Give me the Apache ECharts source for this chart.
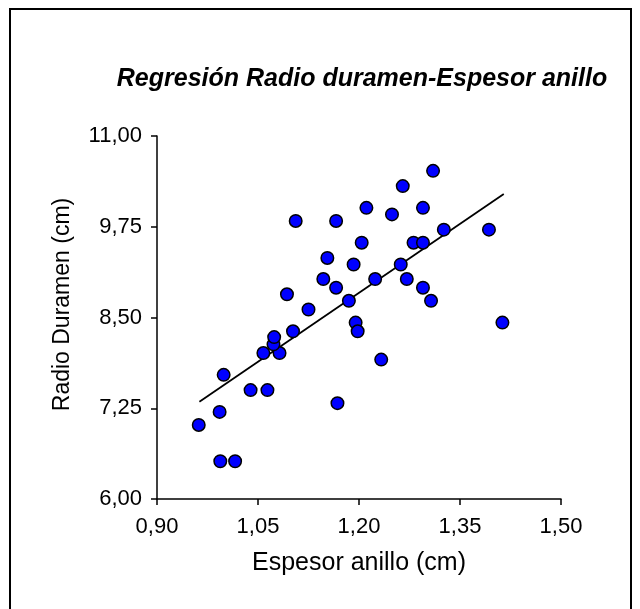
<!DOCTYPE html>
<html>
<head>
<meta charset="utf-8">
<script src="https://cdn.jsdelivr.net/npm/echarts@6/dist/echarts.min.js"></script>
<style>
html,body{margin:0;padding:0;background:#fff;}
#chart{width:640px;height:609px;}
</style>
</head>
<body>
<div id="chart"></div>
<script>
// Espesor anillo (cm)
var espesor = [0.962,0.993,0.994,1.016,0.999,1.039,1.064,1.058,1.082,1.073,1.074,1.102,1.093,1.106,1.125,1.147,1.153,1.166,1.166,1.168,1.185,1.192,1.195,1.198,1.204,1.211,1.224,1.233,1.249,1.265,1.262,1.271,1.281,1.295,1.295,1.295,1.307,1.310,1.326,1.393,1.413];
// Radio Duramen (cm)
var radio = [7.02,7.20,6.52,6.52,7.71,7.50,7.50,8.01,8.01,8.13,8.23,8.31,8.82,9.83,8.61,9.03,9.32,8.91,9.83,7.32,8.73,9.23,8.43,8.31,9.53,10.01,9.03,7.92,9.92,10.31,9.23,9.03,9.53,9.53,10.01,8.91,8.73,10.52,9.71,9.71,8.43];
// regression line endpoints
var lineX = [0.963, 1.415];
var lineY = [7.34, 10.20];
var xTicks = ['0,90','1,05','1,20','1,35','1,50'];
var yTicks = ['6,00','7,25','8,50','9,75','11,00'];

var points = espesor.map(function(x,i){return [x, radio[i]];});
var linePts = lineX.map(function(x,i){return [x, lineY[i]];});

var font = 'Liberation Sans, Arial, sans-serif';
var chart = echarts.init(document.getElementById('chart'), null, {renderer:'canvas'});
chart.setOption({
  animation:false,
  backgroundColor:'#fff',
  title:{
    text:'Regresión Radio duramen-Espesor anillo',
    left:357, top:62, textAlign:'center',
    textStyle:{fontFamily:font, fontSize:25, fontWeight:'bold', fontStyle:'italic', color:'#000'}
  },
  graphic:[{
    type:'rect', shape:{x:10,y:9,width:621,height:640},
    style:{fill:'none', stroke:'#000', lineWidth:2}, silent:true
  }],
  grid:{left:157, right:79, top:136, bottom:110, containLabel:false},
  xAxis:{
    type:'value', min:0.90, max:1.50, interval:0.15,
    name:'Espesor anillo (cm)', nameLocation:'middle', nameGap:52,
    nameTextStyle:{fontFamily:font, fontSize:25, color:'#000'},
    axisLine:{show:true, onZero:false, lineStyle:{color:'#000', width:1.5}},
    axisTick:{show:true, length:6, lineStyle:{color:'#000', width:1.5}},
    axisLabel:{fontFamily:font, fontSize:22, color:'#000', margin:17,
      formatter:function(v){var i=Math.round((v-0.90)/0.15);return xTicks[i]||'';}},
    splitLine:{show:false}
  },
  yAxis:{
    type:'value', min:6.00, max:11.00, interval:1.25,
    name:'Radio Duramen (cm)', nameLocation:'middle', nameGap:83,
    nameTextStyle:{fontFamily:font, fontSize:23, color:'#000', padding:[0,0,0,26]},
    axisLine:{show:true, onZero:false, lineStyle:{color:'#000', width:1.5}},
    axisTick:{show:true, length:6, lineStyle:{color:'#000', width:1.5}},
    axisLabel:{fontFamily:font, fontSize:22, color:'#000', margin:15,
      formatter:function(v){var i=Math.round((v-6)/1.25);return yTicks[i]||'';}},
    splitLine:{show:false}
  },
  series:[
    {type:'line', data:linePts, showSymbol:false, symbol:'none',
     lineStyle:{color:'#000', width:1.8}, z:1},
    {type:'scatter', data:points, symbol:'circle', symbolSize:12.5,
     itemStyle:{color:'#0000ff', borderColor:'#000', borderWidth:1.5, opacity:1}, z:2}
  ]
});
</script>
</body>
</html>
